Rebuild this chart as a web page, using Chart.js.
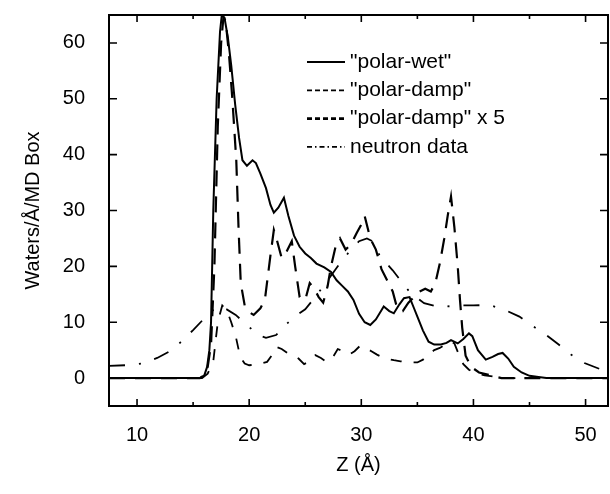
<!DOCTYPE html>
<html>
<head>
<meta charset="utf-8">
<script src="https://cdn.jsdelivr.net/npm/chart.js@4.4.1/dist/chart.umd.min.js"></script>
<style>
  html, body { margin: 0; padding: 0; background: #fff; }
</style>
</head>
<body>
<canvas id="waterChart" width="610" height="494"></canvas>
<script>
'use strict'
// "polar-wet" (solid)
var wetZ = [7.5, 15.6, 16.0, 16.25, 16.45, 16.6, 16.8, 17.1, 17.4, 17.56, 17.8, 18.1, 18.4, 18.75, 19.1, 19.4, 19.8, 20.3, 20.6, 21.0,
  21.5, 21.9, 22.2, 22.6, 23.1, 23.5, 24.0, 24.5, 25.0, 25.5, 26.0, 26.7, 27.3, 27.8, 28.3, 28.8, 29.3, 29.8, 30.3, 30.8,
  31.3, 32.0, 32.5, 32.9, 33.4, 33.8, 34.3, 34.7, 35.0, 35.5, 36.0, 36.5, 37.1, 37.6, 38.0, 38.6, 39.1, 39.6, 39.9, 40.4,
  41.1, 41.7, 42.2, 42.6, 43.1, 43.6, 44.3, 45.0, 45.8, 46.5, 52];
var wetVals = [0, 0, 0.5, 2, 5, 10, 30, 50, 62, 65, 64.5, 61, 56, 49, 43, 39, 38, 39, 38.5, 36.6,
  34, 31, 29.6, 30.5, 32.3, 29, 25.5, 23.5, 22.3, 21.5, 20.5, 19.8, 19, 17.5, 16.5, 15.5, 14, 11.5, 10, 9.5,
  10.5, 12.8, 12, 11.6, 13.2, 14.3, 14.5, 12.5, 11, 8.5, 6.5, 6, 6, 6.3, 6.8, 6.2, 7, 8, 7.5, 5,
  3.3, 3.8, 4.3, 4.5, 3.5, 2, 1, 0.4, 0.2, 0, 0];

// "polar-damp"
var dampZ = [7.5, 15.8, 16.3, 16.8, 17.2, 17.6, 18.0, 18.4, 18.8, 19.2, 19.6, 20.0, 20.5, 21.0, 21.6, 22.0, 22.4, 22.9, 23.4, 23.9,
  24.4, 24.9, 25.4, 25.9, 26.4, 26.9, 27.4, 27.9, 28.4, 28.9, 29.4, 29.9, 30.4, 30.9, 31.4, 31.9, 32.4, 32.9, 33.5, 34.0,
  34.5, 35.0, 35.5, 36.0, 36.5, 37.0, 37.5, 38.0, 38.3, 38.7, 39.1, 39.6, 40.2, 41.0, 42.0, 43.0, 52];
var dampVals = [0, 0, 0.8, 3, 10, 13, 12.2, 10, 7.5, 3.8, 2.6, 2.3, 2.4, 2.6, 2.9, 4, 5.6, 5.2, 4.5, 4.2,
  3.5, 2.5, 3, 4.1, 3.6, 2.9, 3.5, 5.2, 4.8, 4.2, 4.8, 5.8, 5.4, 4.8, 4.2, 3.7, 3.4, 3.2, 3.0, 2.9,
  2.8, 2.8, 3.3, 4.2, 5, 5.4, 6, 6.6, 6.2, 4.2, 2.5, 1.5, 0.9, 0.5, 0.2, 0, 0];

// "polar-damp" x 5
var damp5Z = [7.5, 15.6, 16.0, 16.3, 16.6, 16.9, 17.2, 17.5, 17.7, 17.9, 18.2, 18.5, 18.85, 19.05, 19.25, 19.6, 20.0, 20.4, 21.0, 21.4,
  21.9, 22.2, 22.5, 22.9, 23.3, 23.8, 24.1, 24.5, 25.0, 25.4, 25.8, 26.2, 26.6, 27.0, 27.3, 27.7, 28.1, 28.6, 29.1, 29.6,
  30.0, 30.3, 30.8, 31.3, 31.8, 32.3, 32.8, 33.2, 33.7, 34.2, 34.7, 35.2, 35.7, 36.2, 36.6, 37.0, 37.4, 37.7, 38.0, 38.3,
  38.6, 38.8, 39.0, 39.3, 39.8, 40.5, 41.5, 42.5, 52];
var damp5Vals = [0, 0, 0.5, 2, 6, 20, 45, 60, 64.5, 64, 58, 50, 39, 27, 17, 13, 11.8, 11.3, 12.5, 14,
  22, 26.5, 24.5, 21.5, 22.5, 24.5, 20, 14.5, 14, 17, 16, 14.5, 13.5, 16.5, 20, 23.5, 25, 23, 24, 26,
  27.5, 29, 25, 23, 19.5, 17.5, 15.5, 12.5, 12, 13.5, 14.5, 15.5, 16, 15.5, 17, 20.5, 25, 29, 32.5, 27,
  20, 14, 9, 4, 2, 1, 0.5, 0, 0];

// neutron data
var neutZ = [7.5, 9.0, 10.4, 11.8, 13.1, 14.1, 15.0, 16.1, 16.8, 17.3, 18.0, 18.8, 19.8, 20.8, 21.5, 22.4, 23.4, 24.2, 25.0, 26.0,
  27.0, 28.0, 29.0, 29.8, 30.5, 31.0, 31.7, 32.8, 33.6, 34.4, 35.6, 37.0, 38.6, 40.0, 41.4, 42.8, 44.1, 45.3, 46.5, 47.6,
  48.7, 49.9, 51.3, 52.0];
var neutVals = [2.2, 2.3, 2.6, 3.6, 5, 6.8, 8.6, 10.9, 12.2, 12.8, 12.3, 11.3, 9.5, 7.7, 7.2, 7.7, 9.8, 11.2, 12.3, 14.8,
  17.5, 20.3, 22.8, 24.5, 25, 24.5, 21.7, 19.3, 17.2, 15.2, 13.4, 12.7, 13, 13, 13.1, 12.2, 11, 9.3, 7.7, 6,
  4.2, 2.7, 1.6, 1.2];

var seriesLabels = ['"polar-wet"', '"polar-damp"', '"polar-damp" x 5', 'neutron data'];
var xTicks = [10, 15, 20, 25, 30, 35, 40, 45, 50];
var xTickLabels = [10, 20, 30, 40, 50];
var yTickLabels = [0, 10, 20, 30, 40, 50, 60];

var FONT = "'Liberation Sans', Arial, sans-serif";

function pts(zs, vs) {
  var out = [];
  for (var i = 0; i < zs.length; i++) out.push({x: zs[i], y: vs[i]});
  return out;
}

// small dash patterns for the key, the curves use longer ones
var keyDash = [[], [5, 3], [5, 3], [5, 3, 1.5, 3]];
var keyWidth = [2, 1.8, 2.6, 1.8];

const frameAndKey = {
  id: 'frameAndKey',
  afterDraw(chart) {
    const ctx = chart.ctx;
    const a = chart.chartArea;
    const xs = chart.scales.x, ys = chart.scales.y;
    ctx.save();
    ctx.strokeStyle = '#000';
    ctx.lineWidth = 2;
    ctx.strokeRect(a.left, a.top, a.right - a.left, a.bottom - a.top);
    ctx.lineWidth = 1.6;
    ctx.beginPath();
    xs.ticks.forEach(function (t) {
      var px = xs.getPixelForValue(t.value);
      var len = t.value % 10 === 0 ? 7 : 4;
      ctx.moveTo(px, a.bottom); ctx.lineTo(px, a.bottom - len);
      ctx.moveTo(px, a.top); ctx.lineTo(px, a.top + len);
    });
    ys.ticks.forEach(function (t) {
      var py = ys.getPixelForValue(t.value);
      ctx.moveTo(a.left, py); ctx.lineTo(a.left + 8, py);
      ctx.moveTo(a.right, py); ctx.lineTo(a.right - 8, py);
    });
    ctx.stroke();

    // key inside the plot
    ctx.font = '21px ' + FONT;
    ctx.fillStyle = '#000';
    ctx.textBaseline = 'middle';
    chart.data.datasets.forEach(function (ds, i) {
      var y = 62 + i * 28.3;
      ctx.beginPath();
      ctx.setLineDash(keyDash[i]);
      ctx.lineWidth = keyWidth[i];
      ctx.moveTo(307, y); ctx.lineTo(345, y);
      ctx.stroke();
      ctx.setLineDash([]);
      ctx.fillText(ds.label, 350, y);
    });
    ctx.restore();
  }
};

const data = {
  datasets: [
    { label: seriesLabels[0], data: pts(wetZ, wetVals), borderColor: '#000', borderWidth: 2 },
    { label: seriesLabels[1], data: pts(dampZ, dampVals), borderColor: '#000', borderWidth: 1.8, borderDash: [11, 12] },
    { label: seriesLabels[2], data: pts(damp5Z, damp5Vals), borderColor: '#000', borderWidth: 2.2, borderDash: [16, 10] },
    { label: seriesLabels[3], data: pts(neutZ, neutVals), borderColor: '#000', borderWidth: 1.8, borderDash: [16, 14, 2, 14] }
  ]
};

const config = {
  type: 'line',
  data: data,
  options: {
    responsive: false,
    animation: false,
    devicePixelRatio: 1,
    layout: { padding: { top: 15, right: 2, left: 0, bottom: 0 } },
    elements: { point: { radius: 0 }, line: { tension: 0, fill: false } },
    plugins: { legend: { display: false }, tooltip: { enabled: false } },
    scales: {
      x: {
        type: 'linear',
        min: 7.5,
        max: 52,
        afterBuildTicks: function (s) { s.ticks = xTicks.map(function (v) { return {value: v}; }); },
        afterFit: function (s) { s.height = 88; s.paddingLeft = 0; s.paddingRight = 0; },
        grid: { display: false, drawTicks: false },
        border: { display: false },
        ticks: {
          padding: 17,
          maxRotation: 0,
          autoSkip: false,
          color: '#000',
          font: { family: FONT, size: 20 },
          callback: function (v) { return xTickLabels.indexOf(v) >= 0 ? String(v) : ''; }
        },
        title: { display: true, text: 'Z (Å)', color: '#000', font: { family: FONT, size: 20 }, padding: { top: 0, bottom: 17 } }
      },
      y: {
        min: -5,
        max: 65,
        afterBuildTicks: function (s) { s.ticks = yTickLabels.map(function (v) { return {value: v}; }); },
        afterFit: function (s) { s.width = 109; s.paddingTop = 0; s.paddingBottom = 0; },
        grid: { display: false, drawTicks: false },
        border: { display: false },
        ticks: {
          padding: 24,
          autoSkip: false,
          color: '#000',
          font: { family: FONT, size: 20 }
        },
        title: { display: true, text: 'Waters/Å/MD Box', color: '#000', font: { family: FONT, size: 20 }, padding: { top: 21, bottom: 0 } }
      }
    }
  },
  plugins: [frameAndKey]
};

const waterChart = new Chart(document.getElementById('waterChart'), config);
</script>
</body>
</html>
